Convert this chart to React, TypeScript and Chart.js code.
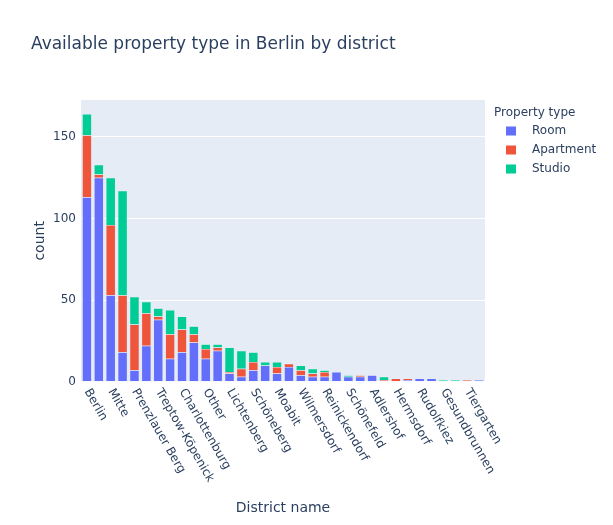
import React, { useEffect, useRef } from "react";
import { Chart, registerables } from "chart.js";

Chart.register(...registerables);

const districts = [
  "Berlin", "Neukölln", "Mitte", "Kreuzberg", "Prenzlauer Berg", "Friedrichshain",
  "Treptow-Köpenick", "Pankow", "Charlottenburg", "Wedding", "Other", "Steglitz",
  "Lichtenberg", "Tempelhof", "Schöneberg", "Spandau", "Moabit", "Zehlendorf",
  "Wilmersdorf", "Weißensee", "Reinickendorf", "Marzahn", "Schönefeld", "Köpenick",
  "Adlershof", "Friedenau", "Hermsdorf", "Lankwitz", "Rudolfkiez", "Britz",
  "Gesundbrunnen", "Dahlem", "Tiergarten", "Grunewald",
];

const room = [113, 125, 53, 18, 7, 22, 38, 14, 18, 24, 14, 19, 5, 3, 7, 10, 5, 9, 4, 3, 3, 6, 3, 3, 4, 0, 0, 1, 2, 2, 0, 0, 0, 1];
const apartment = [38, 2, 43, 35, 28, 20, 2, 15, 14, 5, 6, 2, 1, 5, 5, 0, 4, 2, 3, 2, 3, 0, 0, 1, 0, 1, 2, 1, 0, 0, 0, 0, 1, 0];
const studio = [13, 6, 29, 64, 17, 7, 5, 15, 8, 5, 3, 2, 15, 11, 6, 2, 3, 0, 3, 3, 1, 0, 1, 0, 0, 2, 0, 0, 0, 0, 1, 1, 0, 0];

const seriesNames = ["Room", "Apartment", "Studio"];
const seriesColors = ["#636efa", "#EF553B", "#00cc96"];
const yTicks = [0, 50, 100, 150];

const titleText = "Available property type in Berlin by district";
const legendTitle = "Property type";
const xTitle = "District name";
const yTitle = "count";

const FONT = "'DejaVu Sans', Verdana, sans-serif";
const TEXT = "#2a3f5f";

const decorPlugin = {
  id: "decor",
  beforeDraw(chart: any) {
    const { ctx, chartArea } = chart;
    ctx.save();
    ctx.fillStyle = "#E5ECF6";
    ctx.fillRect(chartArea.left, chartArea.top, chartArea.right - chartArea.left, chartArea.bottom - chartArea.top);
    ctx.restore();
  },
  afterDraw(chart: any) {
    const { ctx, chartArea } = chart;
    const xs = chart.scales.x;
    ctx.save();
    ctx.fillStyle = TEXT;
    // title
    ctx.font = `17px ${FONT}`;
    ctx.textAlign = "left";
    ctx.textBaseline = "middle";
    ctx.fillText(titleText, 31, 45);
    // legend
    ctx.font = `12px ${FONT}`;
    ctx.fillText(legendTitle, 494, 113);
    seriesNames.forEach((n, i) => {
      const y = 131 + i * 19;
      ctx.fillStyle = seriesColors[i];
      ctx.fillRect(506, y - 4.5, 10, 9);
      ctx.fillStyle = TEXT;
      ctx.fillText(n, 532, y);
    });
    // x tick labels (every other, rotated)
    ctx.font = `12px ${FONT}`;
    districts.forEach((d, i) => {
      if (i % 2 !== 0) return;
      const x = xs.getPixelForTick(i);
      ctx.save();
      ctx.translate(x, chartArea.bottom + 8);
      ctx.rotate((60 * Math.PI) / 180);
      ctx.textAlign = "left";
      ctx.textBaseline = "middle";
      ctx.fillText(d, 0, 0);
      ctx.restore();
    });
    // axis titles
    ctx.font = `14px ${FONT}`;
    ctx.textAlign = "center";
    ctx.textBaseline = "middle";
    ctx.fillText(xTitle, (chartArea.left + chartArea.right) / 2, 508);
    ctx.save();
    ctx.translate(40, (chartArea.top + chartArea.bottom) / 2);
    ctx.rotate(-Math.PI / 2);
    ctx.fillText(yTitle, 0, 0);
    ctx.restore();
    ctx.restore();
  },
};

export default function App() {
  const ref = useRef<HTMLCanvasElement>(null);
  useEffect(() => {
    if (!ref.current) return;
    const seriesData = [room, apartment, studio];
    const chart = new Chart(ref.current, {
      type: "bar",
      data: {
        labels: districts,
        datasets: seriesNames.map((n, i) => ({
          label: n,
          data: seriesData[i].map((v) => (v === 0 ? null : v)),
          backgroundColor: seriesColors[i],
          borderColor: "#E5ECF6",
          borderWidth: 0.5,
          categoryPercentage: 1,
          barPercentage: 0.8,
        })),
      },
      options: {
        responsive: false,
        animation: false,
        layout: { padding: { left: 0, top: 100, right: 128, bottom: 0 } },
        plugins: { legend: { display: false }, title: { display: false }, tooltip: { enabled: false } },
        scales: {
          x: {
            stacked: true,
            grid: { display: false },
            border: { display: false },
            ticks: { display: false, autoSkip: false },
            afterFit(scale: any) {
              scale.height = 525 - 381.7;
            },
          },
          y: {
            stacked: true,
            min: 0,
            max: 172.6,
            border: { display: false },
            grid: { color: "#ffffff", lineWidth: 1, drawTicks: false },
            afterBuildTicks(scale: any) {
              scale.ticks = yTicks.map((v) => ({ value: v }));
            },
            ticks: {
              padding: 5,
              color: TEXT,
              font: { family: FONT, size: 12 },
            },
            afterFit(scale: any) {
              scale.width = 81;
            },
          },
        },
      },
      plugins: [decorPlugin],
    });
    return () => chart.destroy();
  }, []);
  return (
    <div style={{ position: "absolute", left: 0, top: 0, width: 613, height: 525 }}>
      <canvas ref={ref} width={613} height={525} />
    </div>
  );
}
